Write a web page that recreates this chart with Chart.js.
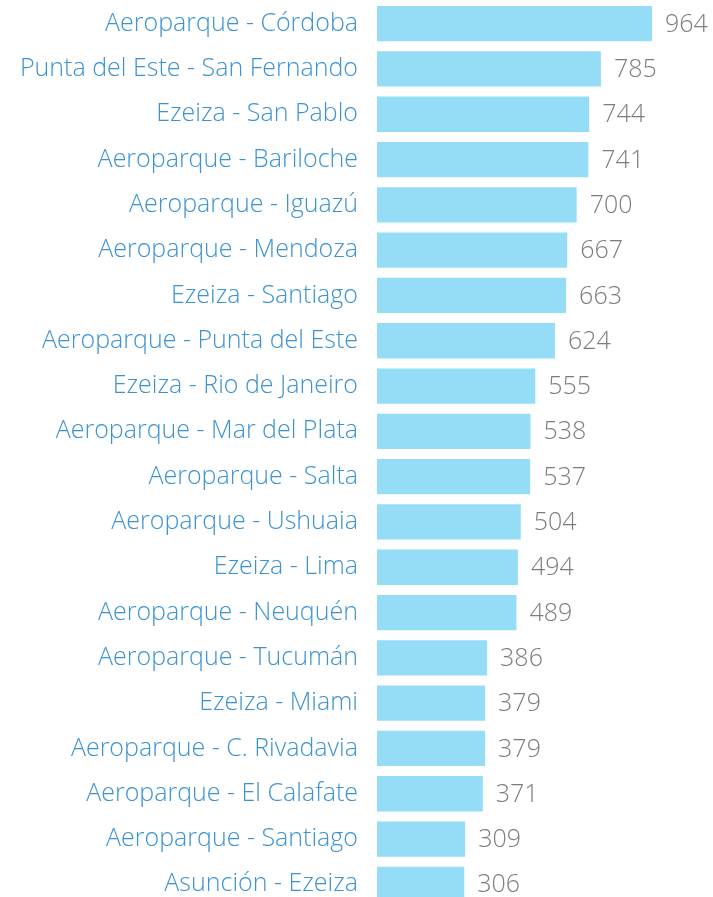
<!DOCTYPE html>
<html>
<head>
<meta charset="utf-8">
<script src="https://cdn.jsdelivr.net/npm/chart.js@4"></script>
<style>
  html, body { margin: 0; padding: 0; overflow: hidden; background: #fff; }
  #wrap { width: 713px; height: 907px; position: relative; }
</style>
</head>
<body>
<div id="wrap"><canvas id="chart"></canvas></div>
<script>
const routes = ["Aeroparque - Córdoba", "Punta del Este - San Fernando", "Ezeiza - San Pablo",
    "Aeroparque - Bariloche", "Aeroparque - Iguazú", "Aeroparque - Mendoza", "Ezeiza - Santiago",
    "Aeroparque - Punta del Este", "Ezeiza - Rio de Janeiro", "Aeroparque - Mar del Plata",
    "Aeroparque - Salta", "Aeroparque - Ushuaia", "Ezeiza - Lima", "Aeroparque - Neuquén",
    "Aeroparque - Tucumán", "Ezeiza - Miami", "Aeroparque - C. Rivadavia", "Aeroparque - El Calafate",
    "Aeroparque - Santiago", "Asunción - Ezeiza"]
const flights = [964, 785, 744, 741, 700, 667, 663, 624, 555, 538, 537, 504, 494, 489, 386, 379, 379, 371, 309, 306]

const fontFamily = "'Open Sans', Lato, sans-serif"

// numbers to the right of each bar
const valueLabels = {
    id: "valueLabels",
    afterDatasetsDraw(chart) {
        const ctx = chart.ctx
        const meta = chart.getDatasetMeta(0)
        ctx.save()
        ctx.font = "300 25px " + fontFamily
        ctx.fillStyle = "#7d7d7d"
        ctx.textAlign = "left"
        ctx.textBaseline = "middle"
        meta.data.forEach((bar, i) => {
            ctx.fillText(flights[i], bar.x + 13, bar.y + 1)
        })
        ctx.restore()
    }
}

new Chart(document.querySelector("#chart"), {
    type: "bar",
    plugins: [valueLabels],
    data: {
        labels: routes,
        datasets: [{
            data: flights,
            backgroundColor: "#95ddf6",
            borderWidth: 0,
            categoryPercentage: 0.78,
            barPercentage: 1,
        }],
    },
    options: {
        indexAxis: "y",
        responsive: true,
        maintainAspectRatio: false,
        animation: false,
        layout: {padding: {top: 1, right: 0, bottom: 0, left: 0}},
        plugins: {legend: {display: false}, tooltip: {enabled: false}},
        scales: {
            x: {display: false, min: 0, max: 1178},
            y: {
                afterFit: (scale) => {
                    scale.width = 377
                    scale.paddingTop = 0
                    scale.paddingBottom = 0
                },
                grid: {display: false},
                border: {display: false},
                ticks: {
                    color: "#3b93d4",
                    padding: 11,
                    font: {family: fontFamily, size: 25, weight: 300},
                },
            },
        },
    },
})
</script>
</body>
</html>
